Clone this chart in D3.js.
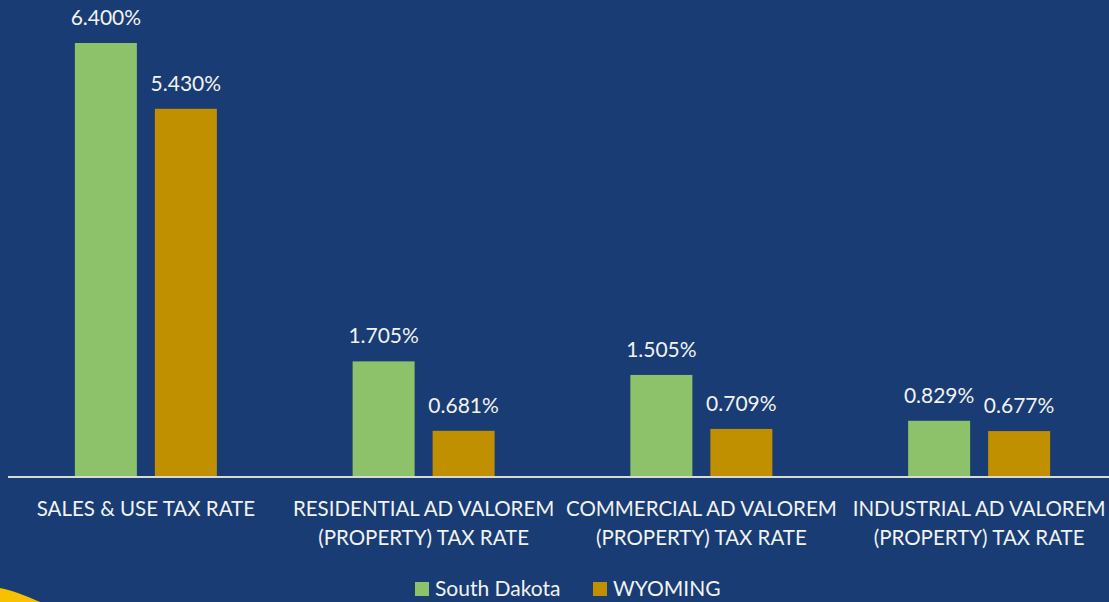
<!DOCTYPE html>
<html>
<head>
<meta charset="utf-8">
<script src="https://cdn.jsdelivr.net/npm/d3@7"></script>
<style>
  body { margin: 0; background: #183c73; }
  svg { display: block; }
  text { font-family: Lato, "Open Sans", sans-serif; fill: #f2f2f2; }
</style>
</head>
<body>
<svg id="chart"></svg>
<script>
// data
var categories = [
  ["SALES & USE TAX RATE"],
  ["RESIDENTIAL AD VALOREM", "(PROPERTY) TAX RATE"],
  ["COMMERCIAL AD VALOREM", "(PROPERTY) TAX RATE"],
  ["INDUSTRIAL AD VALOREM", "(PROPERTY) TAX RATE"]
];
var seriesNames = ["South Dakota", "WYOMING"];
var southDakota = [6.400, 1.705, 1.505, 0.829];
var wyoming = [5.430, 0.681, 0.709, 0.677];
var colors = ["#8dc26b", "#c09000"];

var width = 1109, height = 602;
var baseY = 477, plotLeft = 7, plotRight = 1118;

var svg = d3.select("#chart").attr("width", width).attr("height", height);

svg.append("rect").attr("width", width).attr("height", height).attr("fill", "#183c73");

// little yellow swoosh in the corner
svg.append("path")
  .attr("d", "M0,588 C12,590 26,596 40,602 L0,602 Z")
  .attr("fill", "#f7c100");

var x0 = d3.scaleBand()
  .domain(d3.range(categories.length))
  .range([plotLeft, plotRight])
  .paddingInner(0)
  .paddingOuter(0);

var x1 = d3.scaleBand()
  .domain(d3.range(seriesNames.length))
  .range([0, 142])
  .paddingInner(18 / 80)
  .paddingOuter(0);

var y = d3.scaleLinear().domain([0, 6.4]).range([baseY, 43]);

var groupOffset = (x0.bandwidth() - 142) / 2;

var rows = categories.map(function(c, i) {
  return [southDakota[i], wyoming[i]];
});

var group = svg.selectAll("g.cat")
  .data(rows)
  .enter().append("g")
  .attr("class", "cat")
  .attr("transform", function(d, i) { return "translate(" + (x0(i) + groupOffset) + ",0)"; });

group.selectAll("rect")
  .data(function(d) { return d; })
  .enter().append("rect")
  .attr("x", function(d, j) { return x1(j); })
  .attr("y", function(d) { return y(d); })
  .attr("width", x1.bandwidth())
  .attr("height", function(d) { return baseY - y(d); })
  .attr("fill", function(d, j) { return colors[j]; });

group.selectAll("text.val")
  .data(function(d) { return d; })
  .enter().append("text")
  .attr("class", "val")
  .attr("x", function(d, j) { return x1(j) + x1.bandwidth() / 2; })
  .attr("y", function(d) { return y(d) - 18; })
  .attr("text-anchor", "middle")
  .attr("font-size", 21)
  .text(function(d) { return d.toFixed(3) + "%"; });

// baseline
svg.append("line")
  .attr("x1", 8).attr("x2", width)
  .attr("y1", baseY).attr("y2", baseY)
  .attr("stroke", "#d9d9d9")
  .attr("stroke-width", 2);

// category labels
var catLabel = svg.selectAll("text.cat")
  .data(categories)
  .enter().append("text")
  .attr("class", "cat")
  .attr("text-anchor", "middle")
  .attr("font-size", 20.5)
  .attr("transform", function(d, i) { return "translate(" + (x0(i) + x0.bandwidth() / 2) + ",516)"; });

catLabel.selectAll("tspan")
  .data(function(d) { return d; })
  .enter().append("tspan")
  .attr("x", 0)
  .attr("dy", function(d, k) { return k == 0 ? 0 : 29; })
  .text(function(d) { return d; });

// legend
var legend = svg.append("g").attr("transform", "translate(415,0)");
var legendX = [0, 178];
seriesNames.forEach(function(name, j) {
  legend.append("rect")
    .attr("x", legendX[j]).attr("y", 582)
    .attr("width", 14).attr("height", 14)
    .attr("fill", colors[j]);
  legend.append("text")
    .attr("x", legendX[j] + 20).attr("y", 596)
    .attr("font-size", 21)
    .text(name);
});
</script>
</body>
</html>
